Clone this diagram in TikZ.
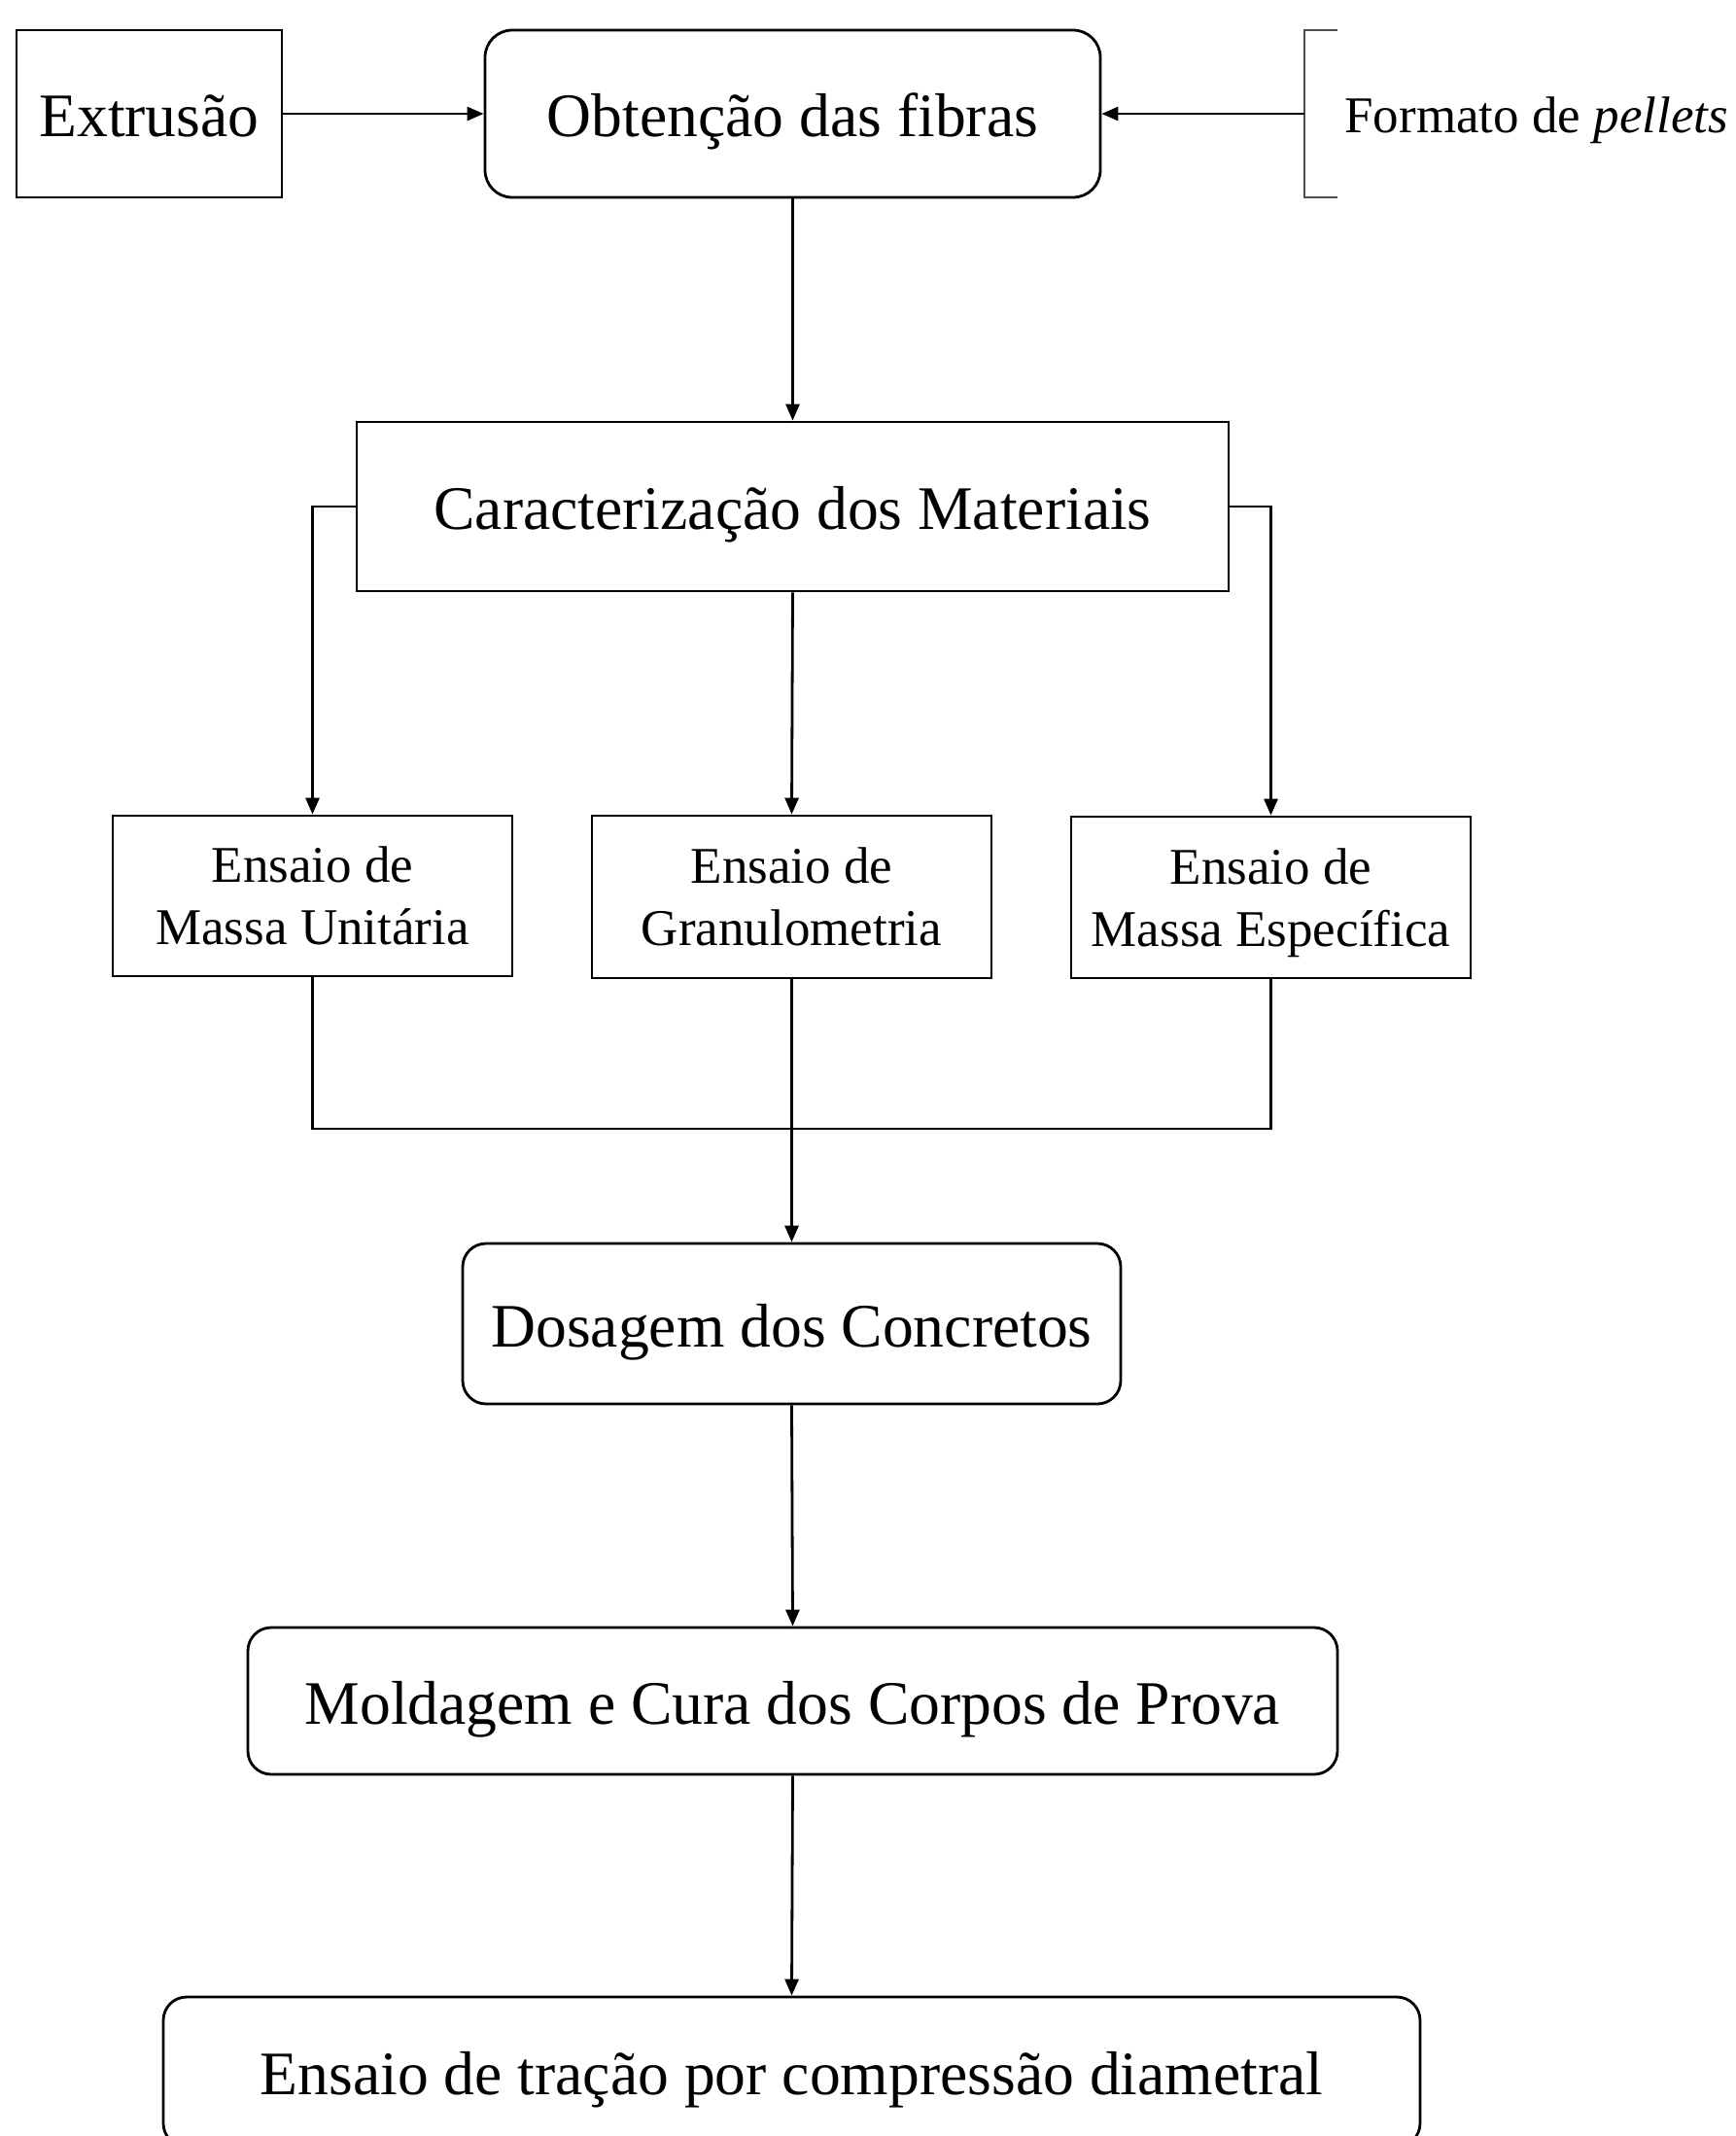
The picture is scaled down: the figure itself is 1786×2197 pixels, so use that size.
\documentclass[tikz,border=0pt]{standalone}
\usepackage{fontspec}
\setmainfont{Liberation Serif}
\usetikzlibrary{arrows.meta}
\begin{document}
\begin{tikzpicture}[x=0.5pt,y=-0.5pt,
  box/.style={draw, line width=1.4pt, align=center, inner sep=0pt},
  rbox/.style={box, rounded corners=12pt},
  big/.style={font=\fontsize{31.8}{38}\selectfont, text height=23.5pt, text depth=0pt},
  small/.style={font=\fontsize{26.5}{32}\selectfont, text depth=0pt},
  arr/.style={draw, line width=1.4pt, -{Triangle[length=8.5pt,width=7pt]}},
  con/.style={draw, line width=1.4pt}]
\clip (0,0) rectangle (1786,2197);
\fill[white] (0,0) rectangle (1786,2197);

\node[box, big, minimum width=136.5pt, minimum height=86pt] (ext) at (153.5,117) {Extrusão};
\node[rbox, big, rounded corners=14pt, minimum width=316.5pt, minimum height=86pt] (obt) at (815.5,117) {Obtenção das fibras};
\node[font=\fontsize{26.5}{32}\selectfont, anchor=west, inner sep=0pt] (fmt) at (1383,124) {Formato de \textit{pellets}};
\coordinate (br) at (1342,117);
\draw[line width=0.9pt, draw=black!70] (1376,31) -- (1342,31) -- (1342,203) -- (1376,203);

\node[box, big, minimum width=448.5pt, minimum height=87pt] (car) at (815.5,521) {Caracterização dos Materiais};

\node[box, small, minimum width=205.5pt, minimum height=82.5pt] (e1) at (321.5,921.5) {Ensaio de\\Massa Unitária};
\node[box, small, minimum width=205.5pt, minimum height=83.5pt] (e2) at (814.5,922.5) {Ensaio de\\Granulometria};
\node[box, small, minimum width=205.5pt, minimum height=83pt] (e3) at (1307.5,923) {Ensaio de\\Massa Específica};

\node[rbox, big, minimum width=338.5pt, minimum height=82.5pt] (dos) at (814.5,1361.5) {Dosagem dos Concretos};
\node[rbox, big, minimum width=560.5pt, minimum height=75.5pt] (mol) at (815.5,1749.5) {Moldagem e Cura dos Corpos de Prova};
\node[rbox, big, minimum width=646.5pt, minimum height=77pt] (fin) at (814.5,2131) {Ensaio de tração por compressão diametral};

\path[arr] (ext.east) -- (obt.west);
\path[arr] (br) -- (obt.east);
\path[arr] (obt.south) -- (car.north);
\path[arr] (car.west) -| (e1.north);
\path[arr] (car.south) -- (e2.north);
\path[arr] (car.east) -| (e3.north);
\coordinate (j) at (814.5,1161);
\path[con] (e1.south) |- (j) -| (e3.south);
\path[arr] (e2.south) -- (dos.north);
\path[arr] (dos.south) -- (mol.north);
\path[arr] (mol.south) -- (fin.north);
\end{tikzpicture}
\end{document}
